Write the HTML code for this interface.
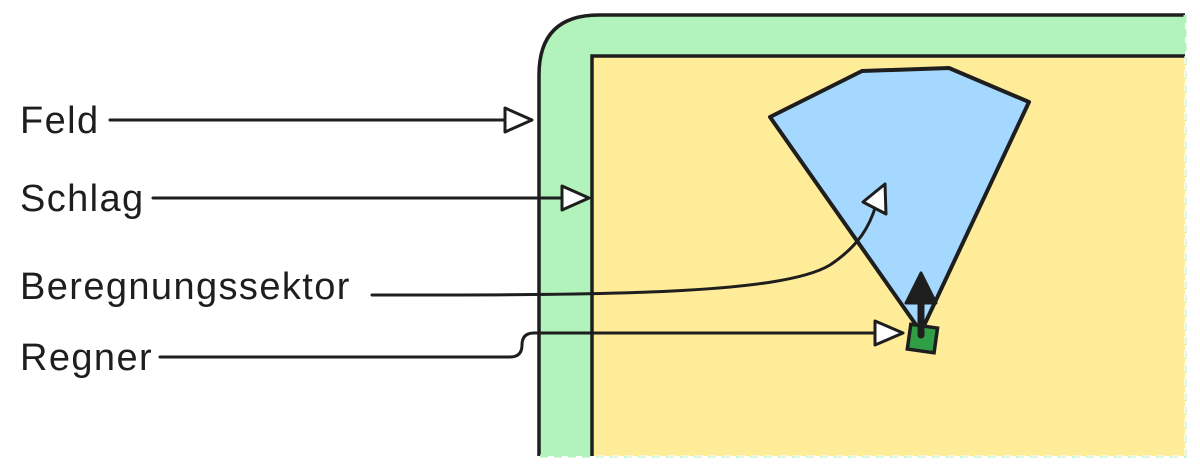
<!DOCTYPE html>
<html><head><style>
html,body{margin:0;padding:0;background:#fff;width:1200px;height:471px;overflow:hidden}
text{font-family:"Liberation Sans",sans-serif;font-size:38px;letter-spacing:1.4px;fill:#1e1e1e}
</style></head><body>
<svg width="1200" height="471" viewBox="0 0 1200 471" xmlns="http://www.w3.org/2000/svg">
<path d="M539,456 L539,75 Q539,15 599,15 L1185,15 L1185,456 Z" fill="#b2f2bb"/>
<path d="M539,456 L539,75 Q539,15 599,15 L1185,15" fill="none" stroke="#1e1e1e" stroke-width="3.5"/>
<path d="M1185,15 L1185,456 L539,456" fill="none" stroke="#b2f2bb" stroke-width="3" stroke-dasharray="8 6"/>
<rect x="592" y="56" width="593" height="400" fill="#ffec99"/>
<path d="M592,456 L592,56 L1185,56" fill="none" stroke="#1e1e1e" stroke-width="3.5"/>
<path d="M1185,56 L1185,456 L592,456" fill="none" stroke="#fff" stroke-width="2" stroke-dasharray="8 6" opacity="0.6"/>
<polygon points="770,117 862,71 949,68 1029,102 921,332" fill="#a5d8ff" stroke="#1e1e1e" stroke-width="4" stroke-linejoin="round"/>
<rect x="909" y="326" width="27" height="25" fill="#2f9e44" stroke="#1e1e1e" stroke-width="3.5" transform="rotate(8 922 338)"/>
<line x1="921" y1="335" x2="921" y2="295" stroke="#1e1e1e" stroke-width="7" stroke-linecap="round"/>
<polygon points="921,273 906,303 936,303" fill="#1e1e1e" stroke="#1e1e1e" stroke-width="3" stroke-linejoin="round"/>
<text x="20" y="133">Feld</text>
<text x="20" y="211">Schlag</text>
<text x="20" y="299">Beregnungssektor</text>
<text x="20" y="370">Regner</text>
<g stroke="#1e1e1e" stroke-width="3" fill="none" stroke-linecap="round">
<line x1="110" y1="120" x2="505" y2="120"/>
<line x1="153" y1="198" x2="562" y2="198"/>
<path d="M372,295 C600,295 780,295 830,265 C860,245 870,225 876,205"/>
<path d="M160,357 L510,357 Q522,357 522,345 Q522,333 534,333 L875,333"/>
</g>
<g fill="#fff" stroke="#1e1e1e" stroke-width="3" stroke-linejoin="round">
<polygon points="505,108 532,120 505,132"/>
<polygon points="562,186 589,198 562,210"/>
<polygon points="885,184 886,214 863,202"/>
<polygon points="875,321 903,333 875,345"/>
</g>
</svg>
</body></html>
